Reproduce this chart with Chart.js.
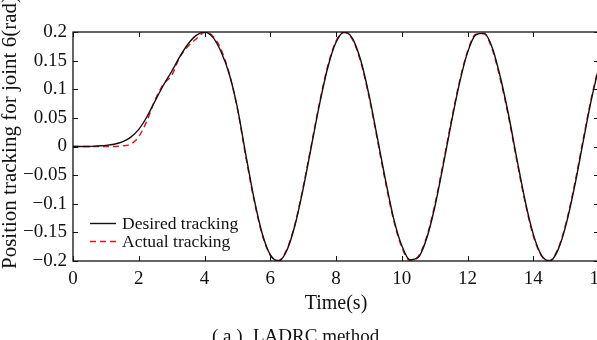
<!DOCTYPE html>
<html>
<head>
<meta charset="utf-8">
<script src="https://cdn.jsdelivr.net/npm/chart.js@4.4.1/dist/chart.umd.min.js"></script>
<style>
  html, body { margin: 0; padding: 0; background: #fff; overflow: hidden; }
  #wrap { width: 597px; height: 340px; overflow: hidden; position: relative; }
  #jointChart { position: absolute; left: 0; top: 0; }
</style>
</head>
<body>
<div id="wrap"><canvas id="jointChart" width="602" height="340"></canvas></div>
<script>
// time axis (s)
const times = [0, 0.25, 0.5, 0.75, 1, 1.25, 1.5, 1.75, 2, 2.25, 2.5, 2.75, 3, 3.25, 3.5, 3.75,
    4, 4.25, 4.5, 4.75, 5, 5.25, 5.5, 5.75, 6, 6.25, 6.5, 6.75, 7, 7.25, 7.5, 7.75,
    8, 8.25, 8.5, 8.75, 9, 9.25, 9.5, 9.75, 10, 10.25, 10.5, 10.75, 11, 11.25, 11.5, 11.75,
    12, 12.25, 12.5, 12.75, 13, 13.25, 13.5, 13.75, 14, 14.25, 14.5, 14.75, 15, 15.25, 15.5, 15.75, 16];

// joint 6 position (rad)
const desired = [0, 0, 0, 0.001, 0.002, 0.004, 0.008, 0.016, 0.03, 0.052, 0.08, 0.107, 0.131, 0.157, 0.179, 0.194,
    0.2, 0.191, 0.166, 0.127, 0.068, -0.012, -0.089, -0.151, -0.189, -0.2, -0.182, -0.138, -0.074, 0, 0.074, 0.138,
    0.182, 0.2, 0.189, 0.151, 0.091, 0.018, -0.057, -0.125, -0.173, -0.198, -0.194, -0.162, -0.107, -0.036, 0.039, 0.109,
    0.164, 0.195, 0.198, 0.173, 0.121, 0.055, -0.021, -0.094, -0.153, -0.19, -0.2, -0.181, -0.136, -0.072, 0.003, 0.077, 0.14];

const actual = [0, 0, 0, 0, 0, 0, 0.001, 0.004, 0.017, 0.045, 0.082, 0.109, 0.124, 0.156, 0.175, 0.188,
    0.199, 0.193, 0.17, 0.128, 0.066, -0.016, -0.092, -0.153, -0.19, -0.199, -0.18, -0.136, -0.071, 0.003, 0.077, 0.141,
    0.184, 0.199, 0.187, 0.148, 0.088, 0.014, -0.061, -0.128, -0.176, -0.199, -0.192, -0.159, -0.103, -0.032, 0.043, 0.112,
    0.166, 0.196, 0.197, 0.17, 0.117, 0.051, -0.025, -0.097, -0.156, -0.191, -0.199, -0.179, -0.133, -0.068, 0.007, 0.08, 0.142];

const seriesNames = ['Desired tracking', 'Actual tracking'];
const xTitle = 'Time(s)';
const yTitle = 'Position tracking for joint 6(rad)';
const caption = ['( a )', 'LADRC method'];

const serif = '"Liberation Serif", "Times New Roman", serif';

// box, inward ticks, legend and titles
const framePlugin = {
    id: 'frame',
    afterDraw(chart) {
        const { ctx, chartArea: a, scales } = chart;
        const xs = scales.x, ys = scales.y;
        ctx.save();
        ctx.strokeStyle = '#111';
        ctx.lineWidth = 1.3;
        ctx.strokeRect(a.left, a.top, a.right - a.left, a.bottom - a.top);

        const tl = 5;
        ctx.beginPath();
        xs.ticks.forEach(t => {
            const px = Math.round(xs.getPixelForValue(t.value)) + 0.5;
            ctx.moveTo(px, a.bottom); ctx.lineTo(px, a.bottom - tl);
            ctx.moveTo(px, a.top); ctx.lineTo(px, a.top + tl);
        });
        ys.ticks.forEach(t => {
            const py = Math.round(ys.getPixelForValue(t.value)) + 0.5;
            ctx.moveTo(a.left, py); ctx.lineTo(a.left + tl, py);
            ctx.moveTo(a.right, py); ctx.lineTo(a.right - tl, py);
        });
        ctx.lineWidth = 1;
        ctx.stroke();

        // legend
        ctx.font = '17.5px ' + serif;
        ctx.fillStyle = '#111';
        ctx.textBaseline = 'middle';
        ctx.textAlign = 'left';
        const rows = [223.5, 241.5];
        chart.data.datasets.forEach((ds, i) => {
            ctx.beginPath();
            ctx.strokeStyle = ds.borderColor;
            ctx.lineWidth = ds.borderWidth;
            ctx.setLineDash(ds.borderDash || []);
            ctx.moveTo(90, rows[i]); ctx.lineTo(116, rows[i]);
            ctx.stroke();
            ctx.setLineDash([]);
            ctx.fillText(ds.label, 122, rows[i] + 1);
        });

        // axis titles
        ctx.font = '20px ' + serif;
        ctx.textBaseline = 'alphabetic';
        ctx.textAlign = 'center';
        ctx.fillText(xTitle, (a.left + a.right) / 2, 309);

        ctx.save();
        ctx.font = '21px ' + serif;
        ctx.translate(15.5, 269);
        ctx.rotate(-Math.PI / 2);
        ctx.textAlign = 'left';
        ctx.fillText(yTitle, 0, 0);
        ctx.restore();

        // caption
        ctx.font = '19px ' + serif;
        ctx.textAlign = 'left';
        ctx.fillText(caption[0], 212, 342);
        ctx.fillText(caption[1], 253, 342);
        ctx.restore();
    }
};

const ctxJoint = document.getElementById('jointChart').getContext('2d');
const jointChart = new Chart(ctxJoint, {
    type: 'line',
    data: {
        datasets: [{
            label: seriesNames[0],
            data: times.map((t, i) => ({ x: t, y: desired[i] })),
            borderColor: '#111111',
            borderWidth: 1.4,
            pointRadius: 0,
            cubicInterpolationMode: 'monotone'
        }, {
            label: seriesNames[1],
            data: times.map((t, i) => ({ x: t, y: actual[i] })),
            borderColor: '#e8101c',
            borderWidth: 1.4,
            borderDash: [6, 4],
            pointRadius: 0,
            cubicInterpolationMode: 'monotone'
        }]
    },
    options: {
        responsive: false,
        animation: false,
        devicePixelRatio: 1,
        layout: { padding: { top: 32, right: 3, left: 0, bottom: 0 } },
        plugins: { legend: { display: false }, tooltip: { enabled: false } },
        scales: {
            x: {
                type: 'linear',
                min: 0, max: 16,
                grid: { display: false, drawTicks: false },
                border: { display: false },
                ticks: {
                    stepSize: 2, padding: 7, color: '#111', maxRotation: 0,
                    font: { family: serif, size: 19 }
                },
                afterFit(scale) { scale.height = 79; scale.paddingLeft = 0; scale.paddingRight = 0; }
            },
            y: {
                min: -0.2, max: 0.2,
                grid: { display: false, drawTicks: false },
                border: { display: false },
                ticks: {
                    stepSize: 0.05, padding: 6, color: '#111',
                    font: { family: serif, size: 19 },
                    callback: v => String(Math.round(v * 100) / 100).replace('-', '\u2212')
                },
                afterFit(scale) { scale.width = 73; scale.paddingTop = 0; scale.paddingBottom = 0; }
            }
        }
    },
    plugins: [framePlugin]
});
</script>
</body>
</html>
